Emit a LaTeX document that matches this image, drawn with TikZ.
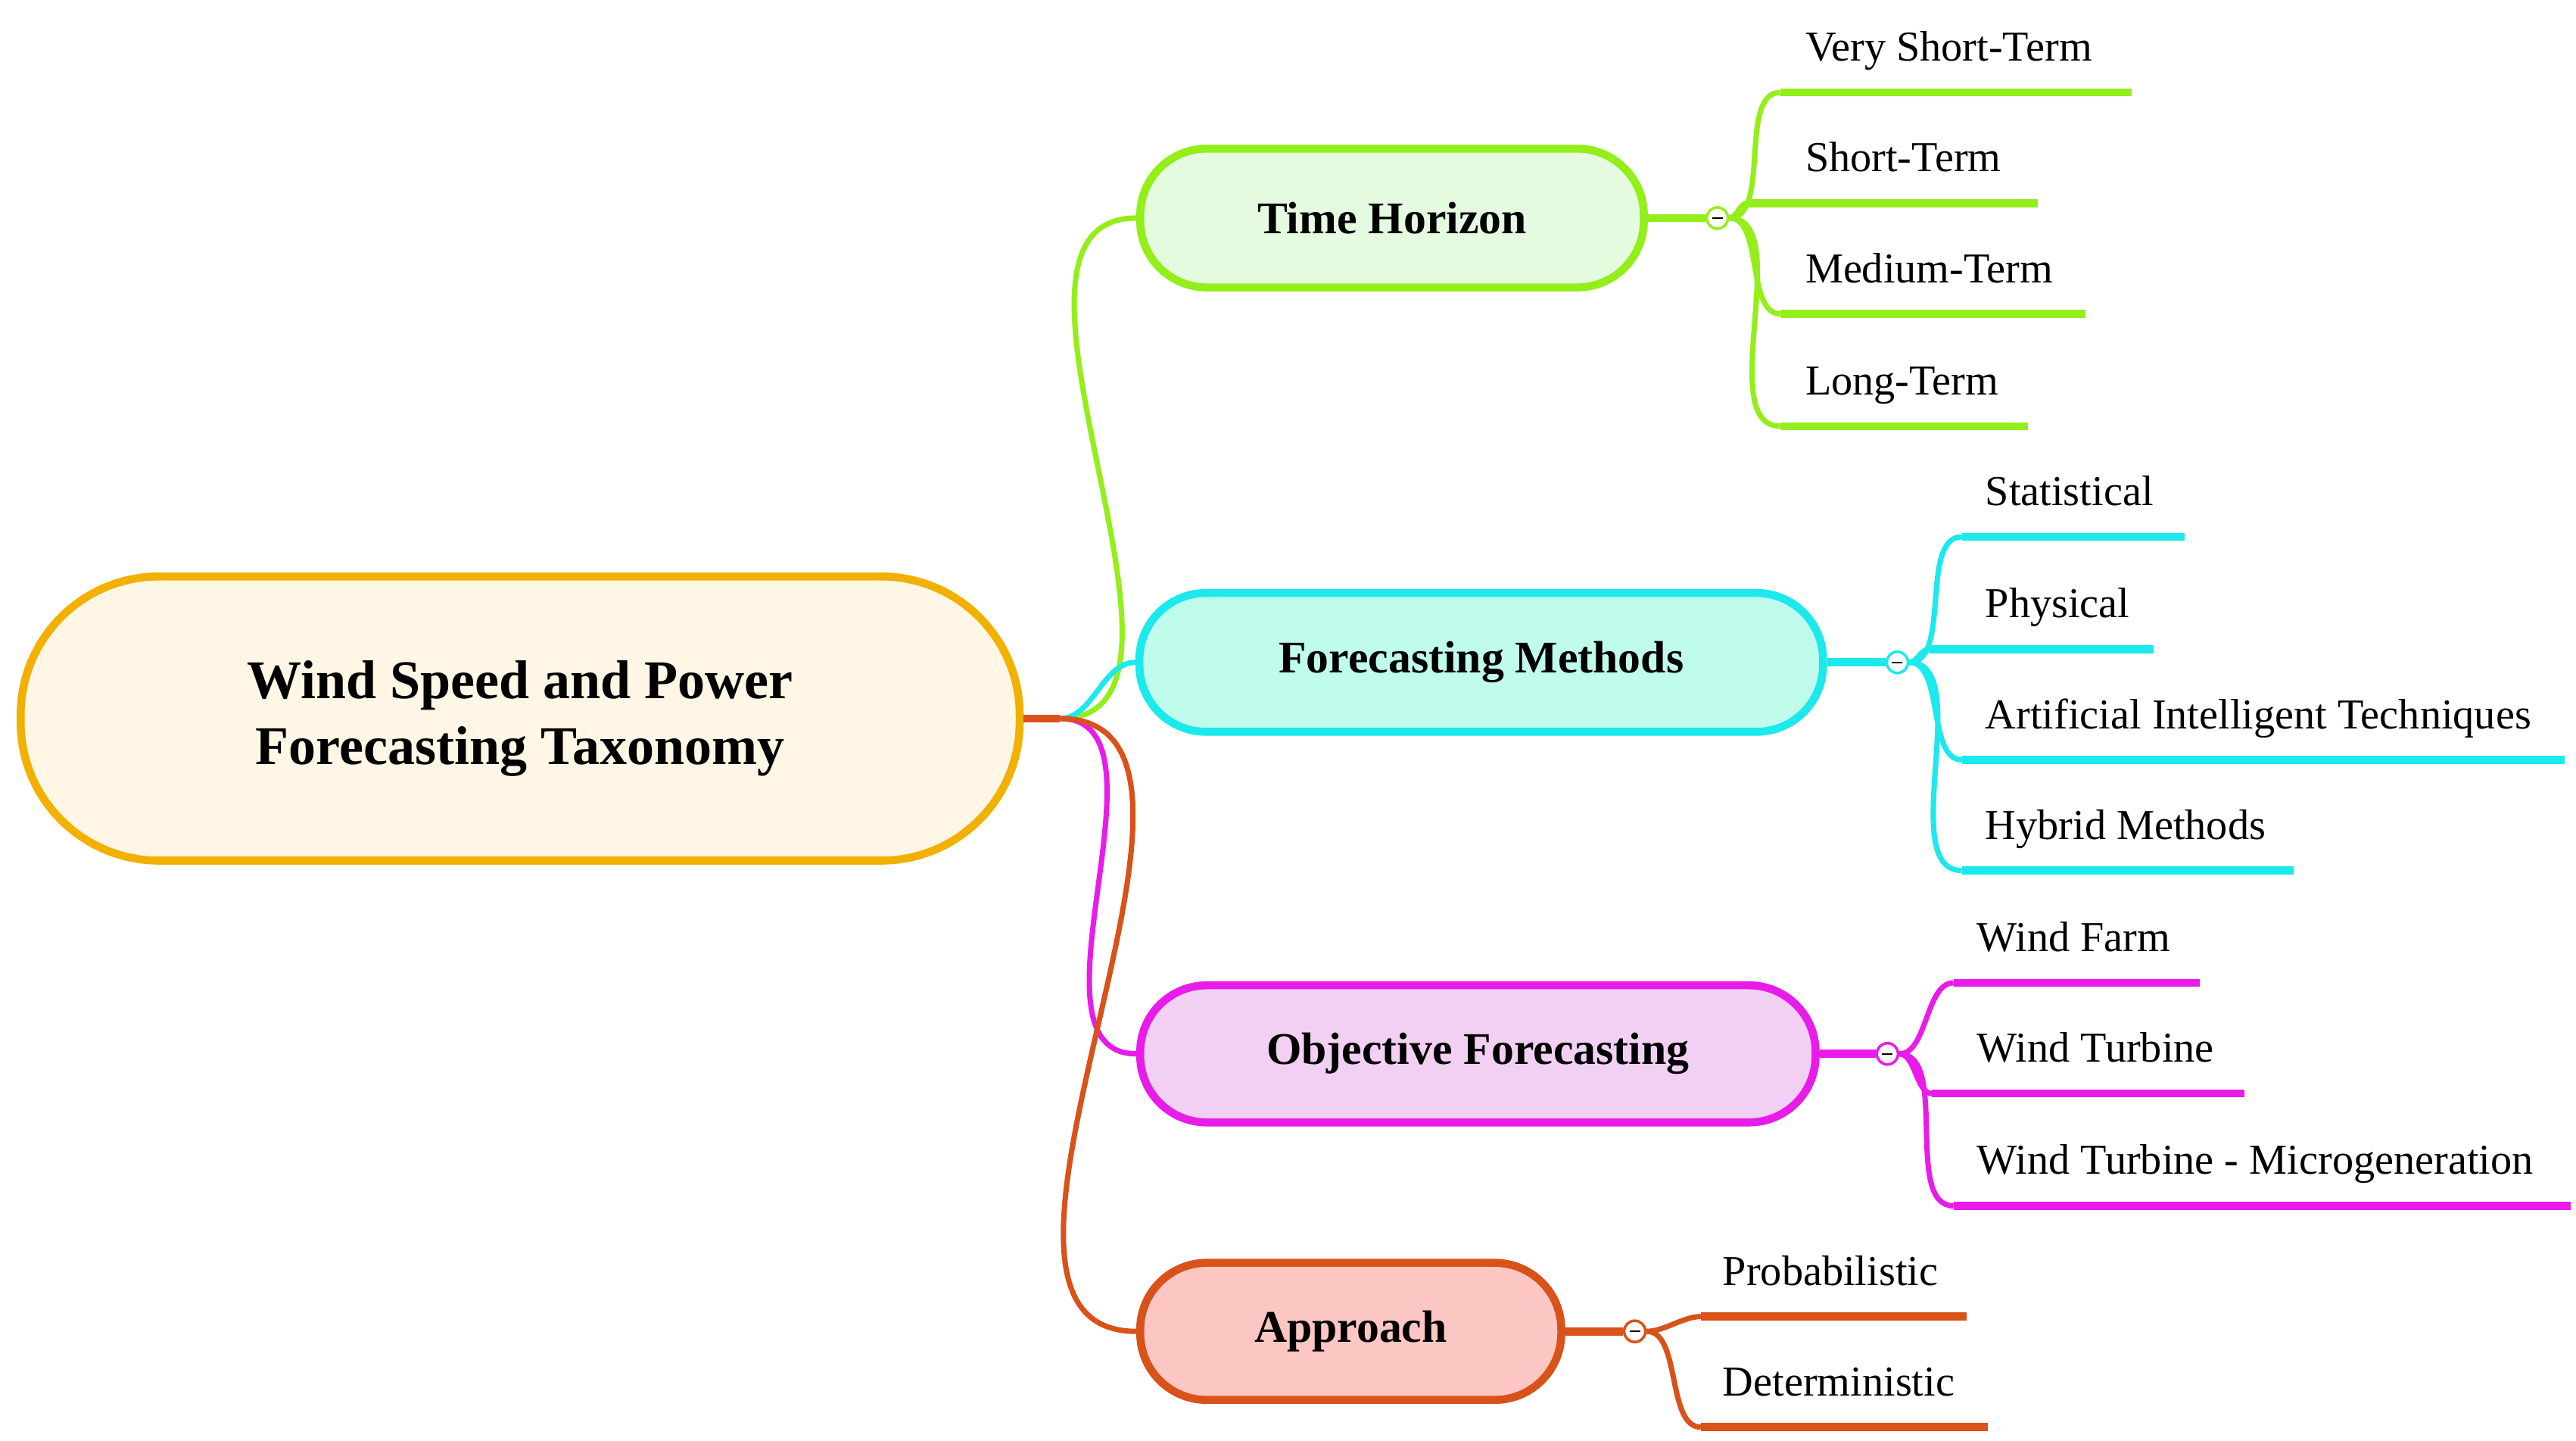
\documentclass[tikz,border=0pt]{standalone}
\usepackage{fontspec}
\setmainfont{Liberation Serif}
\usepackage{xcolor}
\definecolor{rootline}{HTML}{F2B000}\definecolor{rootfill}{HTML}{FFF6E5}
\definecolor{thline}{HTML}{94EE1A}\definecolor{thfill}{HTML}{E4FBE0}
\definecolor{fmline}{HTML}{1BE9EB}\definecolor{fmfill}{HTML}{C0FCEC}
\definecolor{ofline}{HTML}{E81CE8}\definecolor{offill}{HTML}{F2D0F3}
\definecolor{apline}{HTML}{D8521A}\definecolor{apfill}{HTML}{FCC7C3}
\tikzset{
  topic/.style={draw=#1line, fill=#1fill, line width=3pt, rounded corners=25pt,
    font=\fontsize{17}{20}\selectfont\bfseries, inner sep=0pt},
  branch/.style={line width=2pt, #1line},
  knob/.style={circle, draw=#1line, fill=white, line width=1pt, minimum size=8pt, inner sep=0pt},
  leaf/.style={anchor=base west, font=\fontsize{16}{18}\selectfont, inner sep=0pt}
}
\begin{document}
\begin{tikzpicture}[x=0.02181cm,y=-0.02181cm]
\useasboundingbox (0,0) rectangle (1560,872);

% root
\node[draw=rootline, fill=rootfill, line width=3pt, rounded corners=52pt,
  minimum width=605*0.02181cm, minimum height=172*0.02181cm, align=center,
  font=\fontsize{20.5}{25}\selectfont\bfseries] (root) at (315,435)
  {Wind Speed and Power\\Forecasting Taxonomy};
\coordinate (hub) at (642,435);
\draw[line width=3pt, apline] (root.east) -- (hub);

% topics
\node[topic=th, minimum width=305*0.02181cm, minimum height=84*0.02181cm] (th) at (843,132) {Time Horizon};
\node[topic=fm, minimum width=414*0.02181cm, minimum height=84*0.02181cm] (fm) at (897,401) {Forecasting Methods};
\node[topic=of, minimum width=409*0.02181cm, minimum height=83*0.02181cm] (of) at (895,638) {Objective Forecasting};
\node[topic=ap, minimum width=255*0.02181cm, minimum height=83*0.02181cm] (ap) at (818,806) {Approach};

\foreach \t in {th,fm,of,ap}
  \draw[branch=\t] (hub) to[out=0,in=180,looseness=0.9] (\t.west);

% knobs
\node[knob=th] (thk) at (1040,132) {};
\node[knob=fm] (fmk) at (1149,401) {};
\node[knob=of] (ofk) at (1143,638) {};
\node[knob=ap] (apk) at (990,806) {};
\foreach \t in {th,fm,of,ap}{
  \draw[line width=3pt, \t line] (\t.east) -- (\t k);
  \draw[line width=0.6pt] ([xshift=-2pt]\t k.center) -- ([xshift=2pt]\t k.center);
}

% leaves: topic/n/x start/x end/text x/y/label
\foreach \t/\n/\xa/\xb/\xt/\y/\txt in {
  th/1/1078/1291/1093/56/Very Short-Term, th/2/1058/1234/1093/123/Short-Term,
  th/3/1078/1263/1093/190/Medium-Term, th/4/1078/1228/1093/258/Long-Term,
  fm/1/1188/1323/1202/325/Statistical, fm/2/1168/1304/1202/393/Physical,
  fm/3/1188/1553/1202/460/Artificial Intelligent Techniques, fm/4/1188/1389/1202/527/Hybrid Methods,
  of/1/1183/1332/1197/595/Wind Farm, of/2/1170/1359/1197/662/Wind Turbine,
  of/3/1183/1557/1197/730/Wind Turbine - Microgeneration,
  ap/1/1030/1191/1043/797/Probabilistic, ap/2/1030/1204/1043/864/Deterministic}{
  \coordinate (\t\n a) at (\xa,\y);
  \coordinate (\t\n b) at (\xb,\y);
  \draw[line width=3pt, \t line] (\t\n a) -- (\t\n b);
  \draw[branch=\t] (\t k.east) to[out=0,in=180,looseness=0.8] (\t\n a);
  \node[leaf] (\t\n) at (\xt,\y-19) {\txt};
}
\end{tikzpicture}
\end{document}
